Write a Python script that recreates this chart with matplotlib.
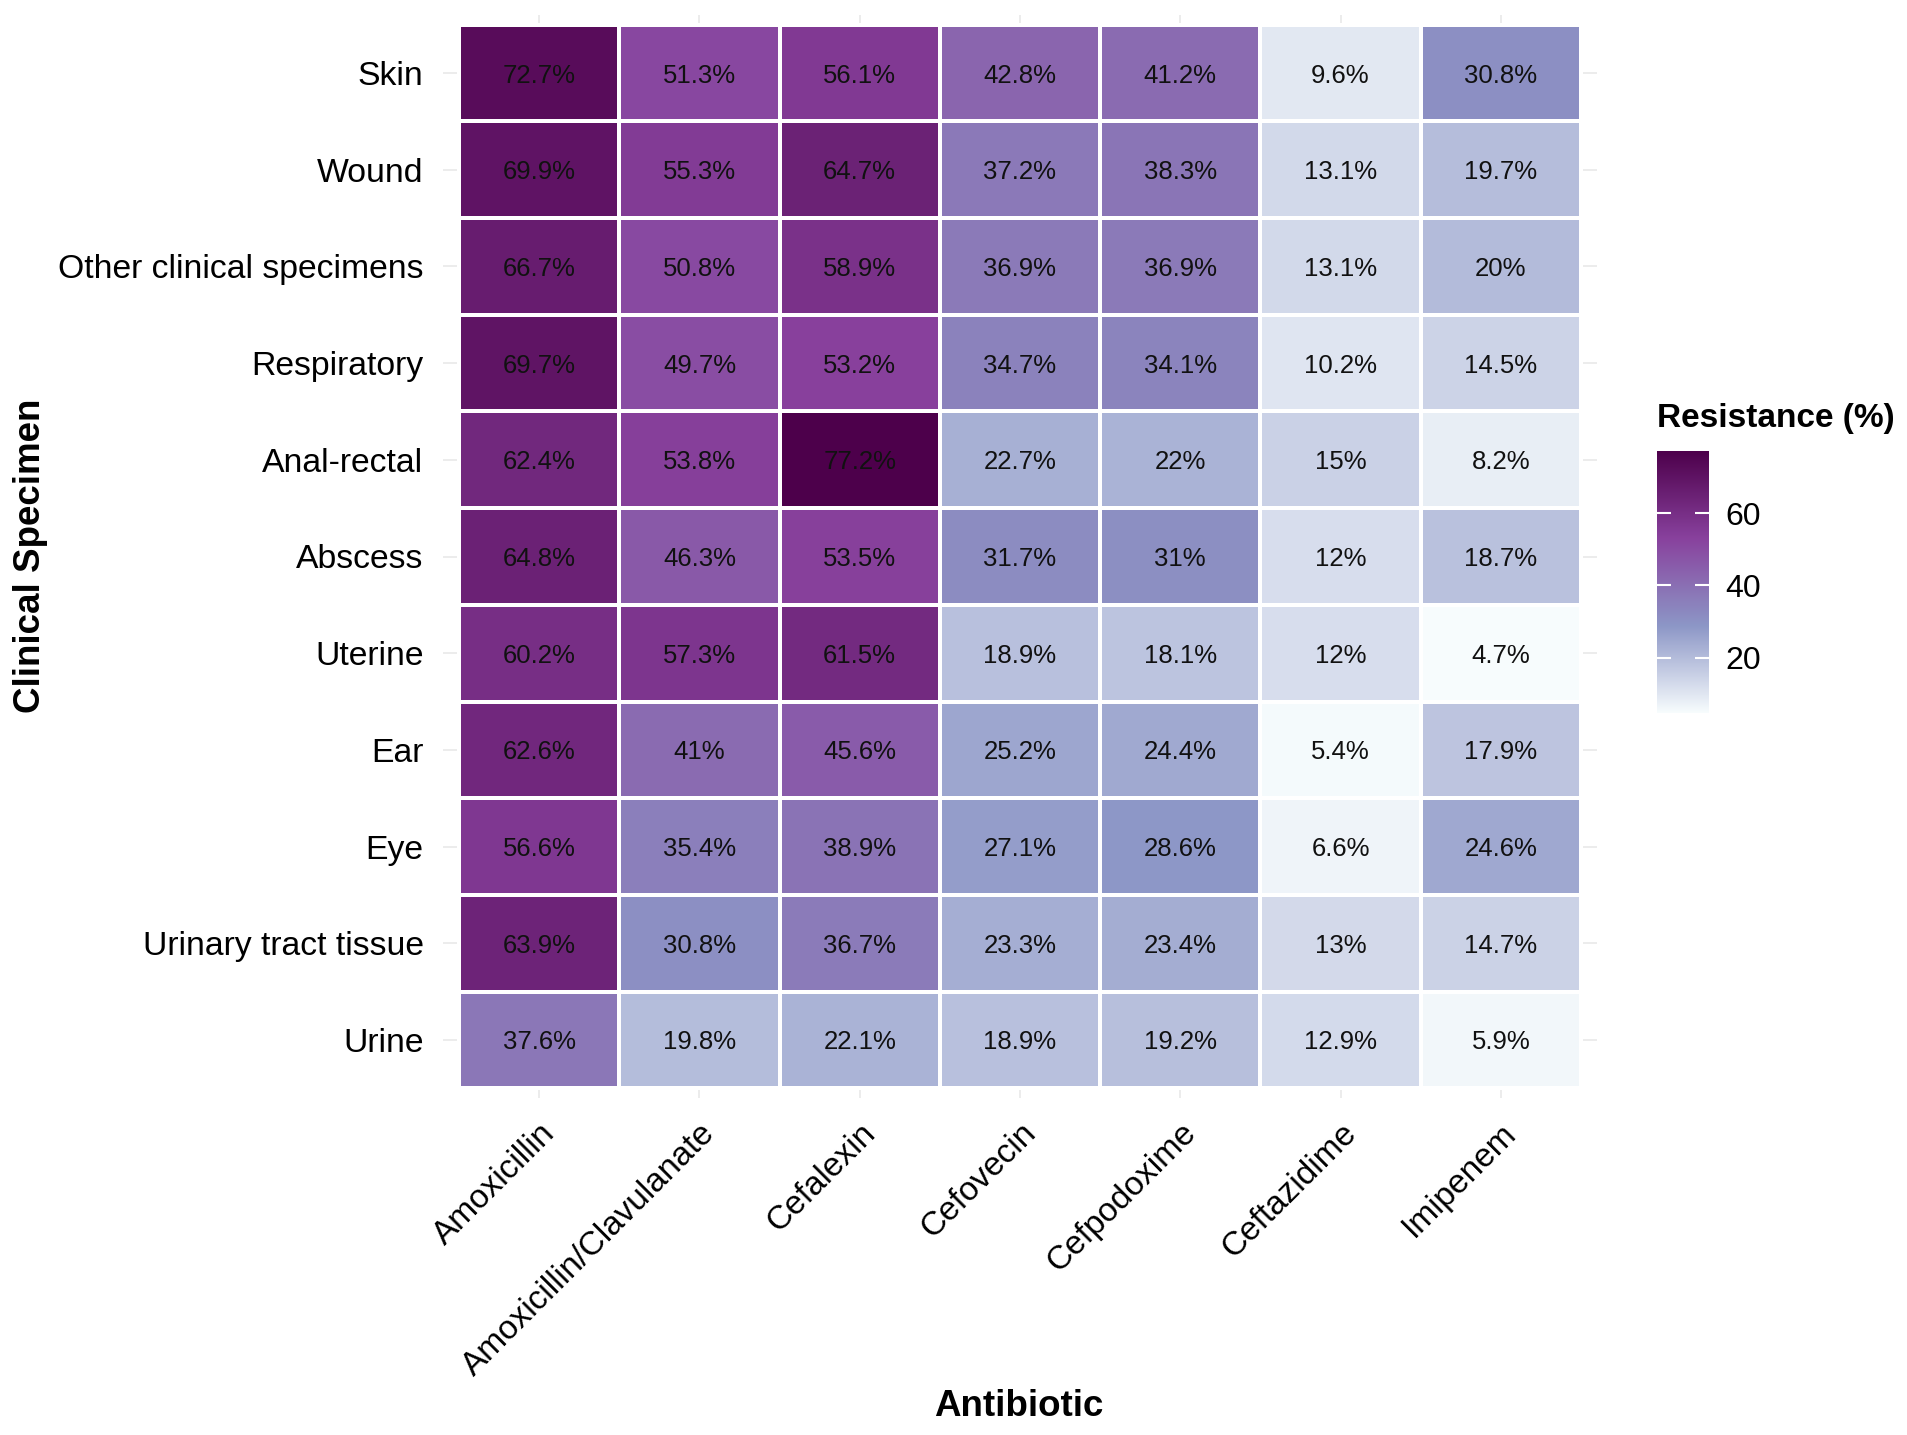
import numpy as np
import matplotlib
matplotlib.use("Agg")
import matplotlib.pyplot as plt
from matplotlib.colors import LinearSegmentedColormap

plt.rcParams['font.family'] = ['Liberation Sans', 'DejaVu Sans']

specimens = ["Skin", "Wound", "Other clinical specimens", "Respiratory", "Anal-rectal",
             "Abscess", "Uterine", "Ear", "Eye", "Urinary tract tissue", "Urine"]
antibiotics = ["Amoxicillin", "Amoxicillin/Clavulanate", "Cefalexin", "Cefovecin",
               "Cefpodoxime", "Ceftazidime", "Imipenem"]

skin = [72.7, 51.3, 56.1, 42.8, 41.2, 9.6, 30.8]
wound = [69.9, 55.3, 64.7, 37.2, 38.3, 13.1, 19.7]
other = [66.7, 50.8, 58.9, 36.9, 36.9, 13.1, 20]
respiratory = [69.7, 49.7, 53.2, 34.7, 34.1, 10.2, 14.5]
anal_rectal = [62.4, 53.8, 77.2, 22.7, 22, 15, 8.2]
abscess = [64.8, 46.3, 53.5, 31.7, 31, 12, 18.7]
uterine = [60.2, 57.3, 61.5, 18.9, 18.1, 12, 4.7]
ear = [62.6, 41, 45.6, 25.2, 24.4, 5.4, 17.9]
eye = [56.6, 35.4, 38.9, 27.1, 28.6, 6.6, 24.6]
urinary_tissue = [63.9, 30.8, 36.7, 23.3, 23.4, 13, 14.7]
urine = [37.6, 19.8, 22.1, 18.9, 19.2, 12.9, 5.9]

values = np.array([skin, wound, other, respiratory, anal_rectal, abscess,
                   uterine, ear, eye, urinary_tissue, urine])
legend_ticks = [20, 40, 60]

# white -> lavender -> purple -> dark plum
cmap = LinearSegmentedColormap.from_list(
    "bupu4", ["#f7fcfd", "#8c96c6", "#88419d", "#4d004b"], N=512)

W, H = 1908, 1435
fig = plt.figure(figsize=(W / 100, H / 100), dpi=100)

# panel area (pixels -> figure fraction)
pl, pr, pt, pb = 443, 1597, 15, 1098
ax = fig.add_axes([pl / W, 1 - pb / H, (pr - pl) / W, (pb - pt) / H])

nrow, ncol = values.shape
vmin, vmax = values.min(), values.max()
mesh = ax.pcolormesh(np.arange(ncol + 1) - 0.5, np.arange(nrow + 1) - 0.5, values,
                     cmap=cmap, vmin=vmin, vmax=vmax,
                     edgecolors='white', linewidth=2.8, zorder=2)

for i in range(nrow):
    for j in range(ncol):
        ax.text(j, i, f"{values[i, j]:g}%", ha='center', va='center_baseline',
                fontsize=18.5, color='#111111', zorder=3)

ax.set_xlim(-0.6, ncol - 0.4)
ax.set_ylim(nrow - 0.4, -0.6)
ax.set_xticks(range(ncol))
ax.set_yticks(range(nrow))
ax.set_xticklabels(antibiotics, rotation=45, ha='right', va='top',
                   rotation_mode='anchor', fontsize=24)
ax.set_yticklabels(specimens, fontsize=24.3)
ax.tick_params(axis='both', length=0)
ax.tick_params(axis='y', pad=14)
ax.tick_params(axis='x', pad=14)
for s in ax.spines.values():
    s.set_visible(False)
ax.grid(True, color='#ebebeb', linewidth=1.3, zorder=0)
ax.set_axisbelow(True)

fig.text(31 / W, 1 - 556 / H, "Clinical Specimen", rotation=90, ha='center',
         va='center', fontsize=26.5, fontweight='bold')
fig.text(1019 / W, 1 - 1406 / H, "Antibiotic", ha='center', va='center',
         fontsize=26.5, fontweight='bold')

# colour legend
cax = fig.add_axes([1657 / W, 1 - 713 / H, 52 / W, 262 / H])
cbar = fig.colorbar(mesh, cax=cax, ticks=legend_ticks)
cbar.outline.set_visible(False)
cax.tick_params(which='both', direction='in', color='white', length=10, width=1.5,
                left=True, right=True, labelleft=False, labelright=True,
                labelsize=23, pad=12)
fig.text(1657 / W, 1 - 419 / H, "Resistance (%)", ha='left', va='center',
         fontsize=24, fontweight='bold')

fig.savefig("out.png", dpi=100)
